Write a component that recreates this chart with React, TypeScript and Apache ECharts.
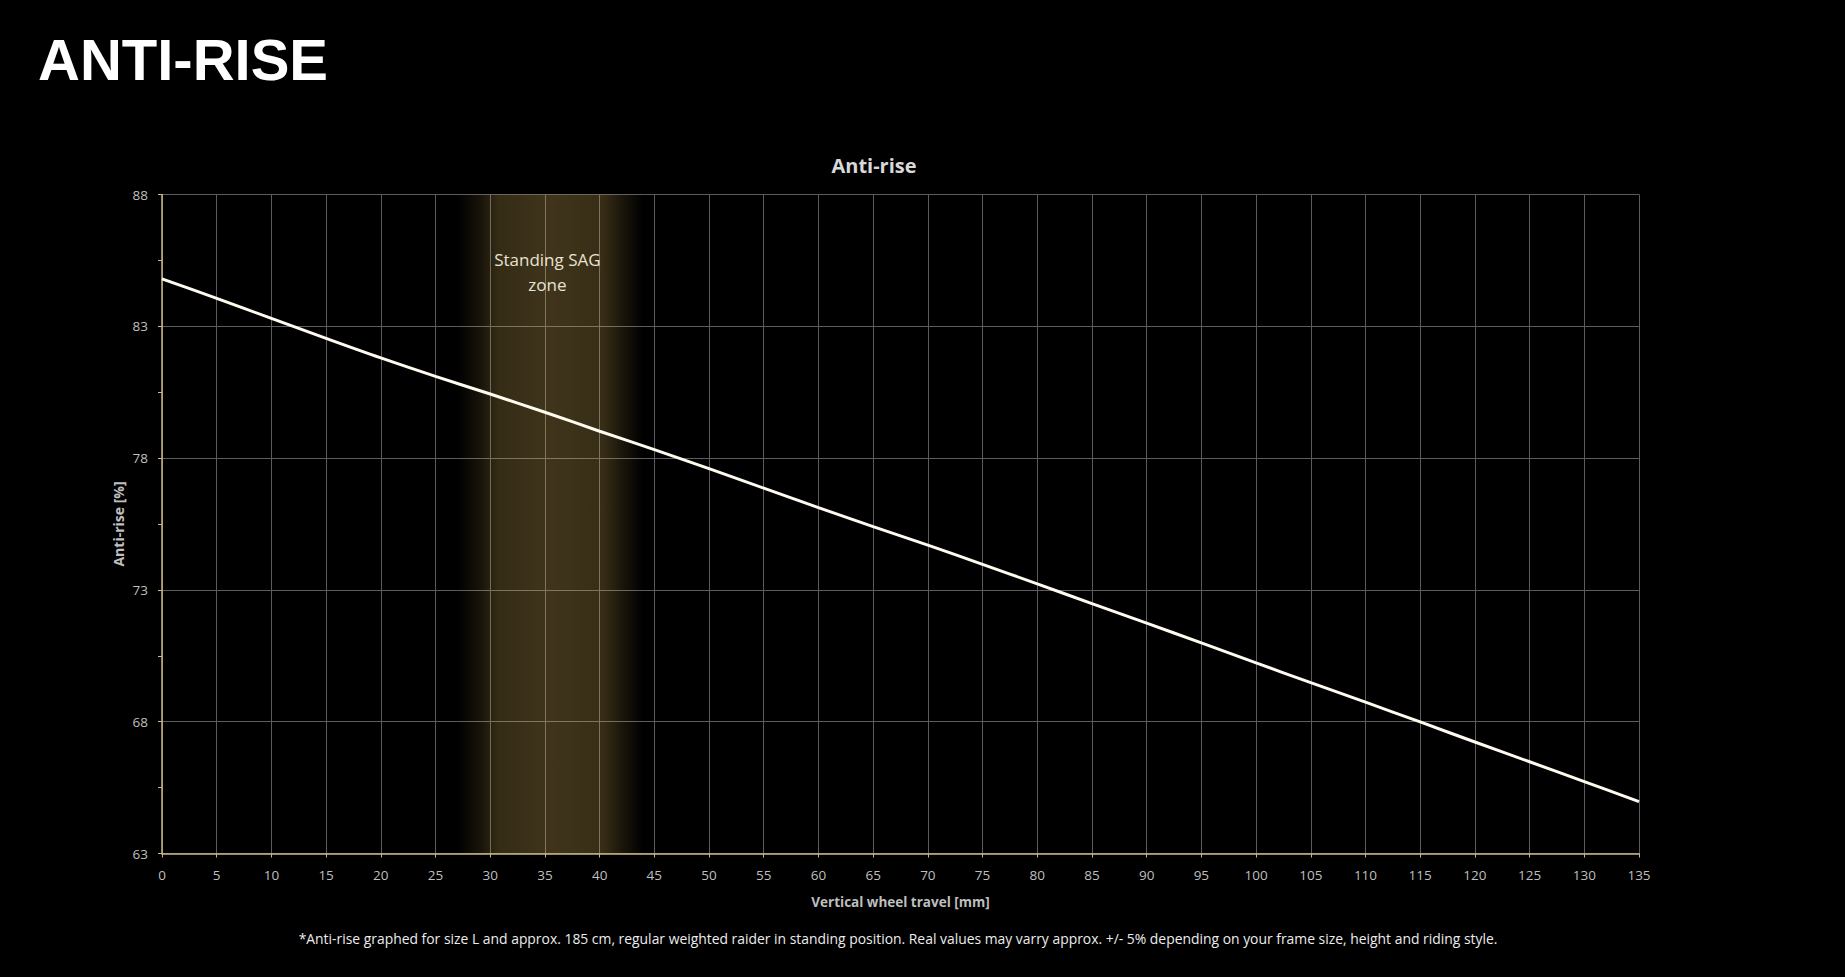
import React, { useEffect, useRef } from "react";
import * as echarts from "echarts";

const travel: number[] = [0, 5, 10, 15, 20, 25, 30, 35, 40, 45, 50, 55, 60, 65, 70, 75, 80, 85, 90, 95, 100, 105, 110, 115, 120, 125, 130, 135];
const antiRise: number[] = [84.8, 84.06, 83.3, 82.54, 81.8, 81.1, 80.43, 79.74, 79.02, 78.32, 77.6, 76.86, 76.12, 75.4, 74.7, 73.97, 73.23, 72.48, 71.74, 70.99, 70.23, 69.48, 68.74, 67.99, 67.23, 66.48, 65.73, 64.97];
const sagZone: [number, number] = [27, 44];
const sagLabel = "Standing SAG\nzone";
const pageTitle = "ANTI-RISE";
const chartTitle = "Anti-rise";
const xName = "Vertical wheel travel [mm]";
const yName = "Anti-rise [%]";
const footnote =
  "*Anti-rise graphed for size L and approx. 185 cm, regular weighted raider in standing position. Real values may varry approx. +/- 5% depending on your frame size, height and riding style.";

const AXIS_COLOR = "#c8b88a";
const GRID_COLOR = "#5c5c5c";
const LABEL_COLOR = "#bfbfbf";
const FONT = "'Open Sans', 'Noto Sans', sans-serif";

export default function App() {
  const ref = useRef<HTMLDivElement>(null);

  useEffect(() => {
    if (!ref.current) return;
    const chart = echarts.init(ref.current, null, { renderer: "svg" });
    const data = travel.map((t, i) => [t, antiRise[i]]);
    chart.setOption({
      animation: false,
      backgroundColor: "#000000",
      textStyle: { fontFamily: FONT },
      grid: { left: 162, right: 206, top: 194.5, bottom: 123.5, containLabel: false },
      graphic: [
        {
          type: "text",
          left: 38,
          top: 30,
          style: {
            text: pageTitle,
            fill: "#ffffff",
            font: "bold 58px 'Liberation Sans', Arial, sans-serif",
          },
        },
        {
          type: "text",
          x: 874,
          y: 165,
          style: {
            text: chartTitle,
            fill: "#d9d9d9",
            font: `bold 20px ${FONT}`,
            textAlign: "center",
            textVerticalAlign: "middle",
          },
        },
        {
          type: "text",
          x: 898,
          y: 938,
          style: {
            text: footnote,
            fill: "#ececec",
            font: `13.9px ${FONT}`,
            textAlign: "center",
            textVerticalAlign: "middle",
          },
        },
      ],
      xAxis: {
        type: "value",
        min: 0,
        max: 135,
        interval: 5,
        name: xName,
        nameLocation: "middle",
        nameGap: 41,
        nameTextStyle: { color: LABEL_COLOR, fontWeight: "bold", fontSize: 13.5, fontFamily: FONT },
        axisLine: { show: true, onZero: false, lineStyle: { color: AXIS_COLOR, width: 1.5 } },
        axisTick: { show: true, length: 4, lineStyle: { color: AXIS_COLOR, width: 1 } },
        axisLabel: { color: LABEL_COLOR, fontSize: 13.5, margin: 14, fontFamily: FONT },
        splitLine: { show: true, lineStyle: { color: GRID_COLOR, width: 1 } },
      },
      yAxis: {
        type: "value",
        min: 63,
        max: 88,
        interval: 5,
        name: yName,
        nameLocation: "middle",
        nameGap: 37,
        nameMoveOverlap: false,
        nameTextStyle: { color: LABEL_COLOR, fontWeight: "bold", fontSize: 14, fontFamily: FONT },
        axisLine: { show: true, onZero: false, lineStyle: { color: AXIS_COLOR, width: 1.5 } },
        axisTick: { show: true, length: 4, lineStyle: { color: AXIS_COLOR, width: 1 } },
        minorTick: { show: true, splitNumber: 2, length: 4, lineStyle: { color: AXIS_COLOR, width: 1 } },
        axisLabel: { color: LABEL_COLOR, fontSize: 13.5, margin: 14, fontFamily: FONT },
        splitLine: { show: true, lineStyle: { color: GRID_COLOR, width: 1 } },
      },
      series: [
        {
          type: "line",
          data,
          symbol: "none",
          smooth: 0.35,
          lineStyle: { color: "#fffbee", width: 3 },
          z: 5,
          markArea: {
            silent: true,
            itemStyle: {
              color: new echarts.graphic.LinearGradient(0, 0, 1, 0, [
                { offset: 0, color: "rgba(230,190,95,0)" },
                { offset: 0.12, color: "rgba(230,190,95,0.10)" },
                { offset: 0.22, color: "rgba(230,190,95,0.23)" },
                { offset: 0.5, color: "rgba(235,195,100,0.27)" },
                { offset: 0.78, color: "rgba(230,190,95,0.24)" },
                { offset: 0.9, color: "rgba(230,190,95,0.10)" },
                { offset: 1, color: "rgba(230,190,95,0)" },
              ]),
            },
            label: {
              show: true,
              position: "insideTop",
              distance: 52,
              offset: [-3, 0],
              color: "#e8e2d2",
              fontSize: 17,
              lineHeight: 25,
              fontFamily: FONT,
              align: "center",
              formatter: sagLabel,
            },
            data: [[{ xAxis: sagZone[0] }, { xAxis: sagZone[1] }]],
          },
        },
      ],
    });
    return () => chart.dispose();
  }, []);

  return (
    <div
      ref={ref}
      style={{ position: "absolute", left: 0, top: 0, width: 1845, height: 977, background: "#000" }}
    />
  );
}
